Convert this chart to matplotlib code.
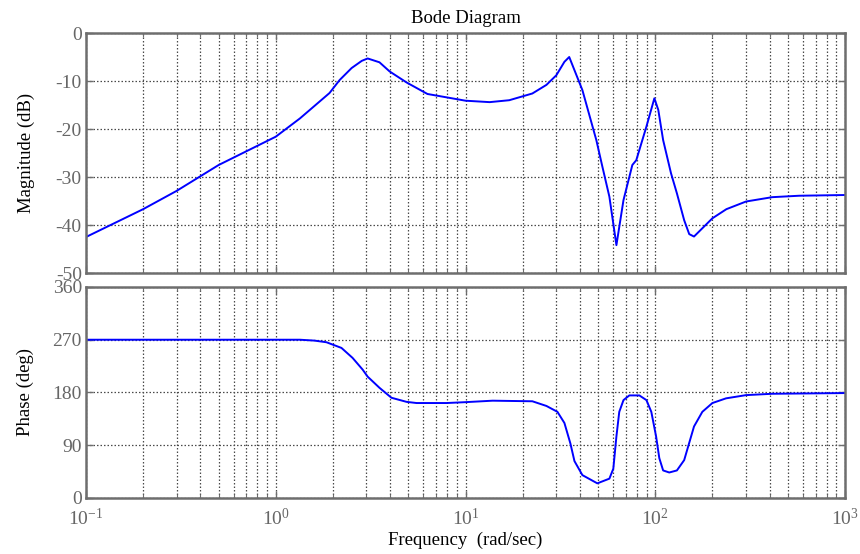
import numpy as np
import matplotlib.pyplot as plt
from matplotlib.ticker import LogLocator, NullFormatter

plt.rcParams['font.family'] = ['Liberation Serif', 'DejaVu Serif']
plt.rcParams['mathtext.fontset'] = 'custom'
plt.rcParams['mathtext.rm'] = 'Liberation Serif'
plt.rcParams['mathtext.it'] = 'Liberation Serif:italic'

# magnitude (dB)
freq_mag = [0.1, 0.2, 0.3, 0.5, 1.0, 1.34, 1.92, 2.17, 2.51, 2.84, 3.05, 3.52, 3.98,
            4.89, 6.3, 10, 13.4, 17, 22.5, 26.7, 30.1, 33.2, 35.2, 41.3, 48.9, 52.6,
            57.3, 62.4, 68, 75.7, 79.4, 89.8, 98.9, 103.7, 110, 121, 130, 142, 151,
            160, 200, 237, 301, 413, 573, 1000]
mag_db = [-42.5, -36.7, -32.9, -27.5, -21.6, -17.8, -12.5, -9.8, -7.3, -5.8, -5.3, -6.1, -8.0,
          -10.3, -12.7, -14.1, -14.4, -14.0, -12.6, -10.8, -8.8, -6.0, -5.0, -11.9, -22.3, -27.8,
          -34.1, -44.2, -34.8, -27.5, -26.5, -19.5, -13.6, -16.0, -22.3, -29.2, -33.4, -39.0, -41.9,
          -42.4, -38.6, -36.7, -35.1, -34.2, -33.9, -33.75]

# phase (deg)
freq_ph = [0.1, 1.34, 1.6, 1.85, 2.22, 2.54, 2.87, 3.05, 3.52, 4.07, 4.89, 5.52, 7.94, 10,
           13.9, 22.5, 26.7, 30.5, 33.2, 35.7, 37.5, 41.3, 49.5, 57.3, 60.1, 62.4, 64.6,
           68, 73, 82.4, 89.8, 95.3, 101, 105, 110, 118.5, 130, 142, 160, 177, 200, 236,
           301, 413, 1000]
phase_deg = [270, 270, 268.5, 265.7, 256, 239, 219, 207, 188, 171, 164, 162, 162, 163.5,
             166, 165, 157, 147, 128, 93, 63, 39, 25, 33, 50, 105, 147,
             167, 175, 175, 167, 147, 105, 68, 47, 43.5, 47, 64.6, 122, 147, 162, 170,
             175.5, 177.8, 179]

mag_ticks = [0, -10, -20, -30, -40, -50]
ph_ticks = [0, 90, 180, 270, 360]

fig = plt.figure(figsize=(8.6, 5.54), dpi=100)
ax1 = fig.add_axes([0.1, 0.5072, 0.8826, 0.4332])
ax2 = fig.add_axes([0.1, 0.1011, 0.8826, 0.3809])

edge = '#6e6e6e'
for ax in (ax1, ax2):
    ax.set_xscale('log')
    ax.set_xlim(0.1, 1000)
    ax.xaxis.set_major_locator(LogLocator(base=10, numticks=10))
    ax.xaxis.set_minor_locator(LogLocator(base=10, subs=np.arange(2, 10), numticks=10))
    ax.xaxis.set_minor_formatter(NullFormatter())
    ax.grid(True, which='major', color='#4a4a4a', linestyle=(0, (1.2, 1.6)), linewidth=0.9)
    ax.grid(True, which='minor', axis='x', color='#4a4a4a', linestyle=(0, (1.2, 1.6)), linewidth=0.9)
    ax.tick_params(which='both', direction='in', top=True, right=True, colors=edge,
                   labelsize=14, labelcolor='#666666')
    ax.tick_params(which='major', length=5, width=1)
    ax.tick_params(which='minor', length=3, width=0.8)
    for s in ax.spines.values():
        s.set_color(edge)
        s.set_linewidth(1.8)

ax1.plot(freq_mag, mag_db, color='#0000ff', linewidth=1.4)
ax1.set_ylim(-50, 0)
ax1.set_yticks(mag_ticks)
ax1.set_yticklabels([str(t) for t in mag_ticks])
ax1.tick_params(axis='y', pad=3)
ax1.tick_params(labelbottom=False)
ax1.set_ylabel('Magnitude (dB)', fontsize=13.5)
ax1.yaxis.set_label_coords(-0.067, 0.5)
ax1.set_title('Bode Diagram', fontsize=13.5, pad=7)

ax2.plot(freq_ph, phase_deg, color='#0000ff', linewidth=1.4)
ax2.set_ylim(0, 360)
ax2.set_yticks(ph_ticks)
ax2.tick_params(axis='y', pad=3)
ax2.set_ylabel('Phase (deg)', fontsize=13.5)
ax2.yaxis.set_label_coords(-0.069, 0.5)
ax2.set_xlabel('Frequency  (rad/sec)', fontsize=13.5, labelpad=2)
ax2.tick_params(axis='x', pad=7)

fig.savefig('out.png', dpi=100)
